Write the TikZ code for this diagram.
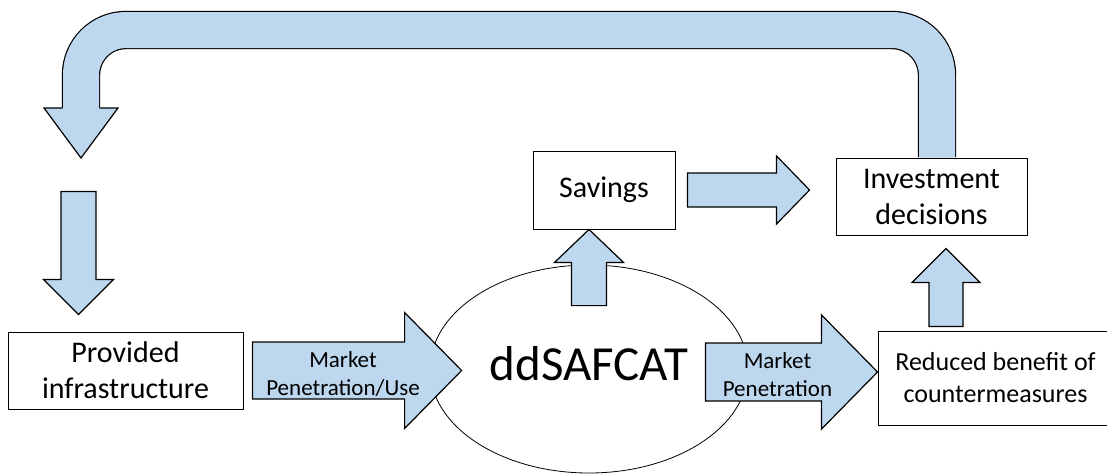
\documentclass[tikz,border=0pt]{standalone}
\usepackage{fontspec}
\setmainfont{Carlito}
\usetikzlibrary{shapes.geometric,calc}

\definecolor{arrowblue}{RGB}{189,215,238}

\newcommand\blockarrow[5]{%
  \coordinate (ba-h) at ($(#2)!#5!(#1)$);
  \draw[fatarrow] ($(#1)!#3!90:(#2)$) -- ($(ba-h)!#3!90:(#2)$) -- ($(ba-h)!#4!90:(#2)$)
    -- (#2) -- ($(ba-h)!#4!-90:(#2)$) -- ($(ba-h)!#3!-90:(#2)$) -- ($(#1)!#3!-90:(#2)$) -- cycle;
}

\begin{document}
\begin{tikzpicture}[x=1pt, y=-1pt,
  box/.style={draw, fill=white, line width=0.9pt, inner sep=0pt, align=center},
  fatarrow/.style={draw, fill=arrowblue, line width=1.2pt, line join=miter},
  arrowlabel/.style={align=center, font=\fontsize{23}{28}\selectfont},
  bigtext/.style={font=\fontsize{30}{36}\selectfont}
]
  \useasboundingbox (0,0) rectangle (1107,474);

  \node[box, bigtext, minimum width=235pt, minimum height=77pt] (infra) at (125.5,370.5) {Provided\\infrastructure};
  \node[box, bigtext, minimum width=142pt, minimum height=78pt] (savings) at (604,190) {Savings};
  \node[box, bigtext, minimum width=191pt, minimum height=77pt] (invest) at (931.5,196.5) {Investment\\decisions};
  \node[box, font=\fontsize{26}{32}\selectfont, minimum width=235pt, minimum height=94pt] (reduce) at (995.5,378) {Reduced benefit of\\countermeasures};
  \node[draw, ellipse, line width=0.8pt, minimum width=318pt, minimum height=208pt, inner sep=0pt,
    text depth=12pt, font=\fontsize{49}{58}\selectfont] (sim) at (589,369) {ddSAFCAT};

  % feedback loop
  \coordinate (lpa) at ($(invest.north)+(5.5,-0.5)$);
  \coordinate (lpc) at (81,30);
  \coordinate (lpb) at (lpa |- lpc);
  \coordinate (lpd) at (81,108);
  \draw[line width=38.4pt, rounded corners=45pt] (lpa) -- (lpb) -- (lpc) -- (lpd);
  \draw[arrowblue, line width=36pt, rounded corners=45pt] (lpa) -- (lpb) -- (lpc) -- (lpd);
  \filldraw[fatarrow] ($(lpd)+(-18.6,0)$) -- ($(lpd)+(-37,0)$) -- ($(lpd)+(0,50)$) -- ($(lpd)+(37,0)$) -- ($(lpd)+(18.6,0)$);

  \coordinate (ifa) at ($(infra.north)+(-47,-140)$);
  \coordinate (ifb) at ($(infra.north)+(-47,-17)$);
  \blockarrow{ifa}{ifb}{17.5pt}{35pt}{35pt}

  \coordinate (pua) at ($(infra.east)+(9,0)$);
  \coordinate (pub) at ($(pua -| sim.west)+(32,0)$);
  \blockarrow{pua}{pub}{28.5pt}{58pt}{57pt}
  \node[arrowlabel] (puselbl) at ($(pua)!0.5!(pub)+(-14,3)$) {Market\\Penetration/Use};

  \coordinate (pna) at ($(sim.east)+(-43,3)$);
  \coordinate (pnb) at (pna -| reduce.west);
  \blockarrow{pna}{pnb}{29pt}{57pt}{56pt}
  \node[arrowlabel] (penlbl) at ($(pna)!0.5!(pnb)+(-14,3)$) {Market\\Penetration};

  \coordinate (sva) at ($(sim.north)+(0,41)$);
  \coordinate (svb) at (sim.north |- savings.south);
  \blockarrow{sva}{svb}{17.5pt}{34.5pt}{33pt}

  \coordinate (iva) at ($(savings.east)+(12,0)$);
  \coordinate (ivb) at ($(iva -| invest.west)+(-26,0)$);
  \blockarrow{iva}{ivb}{17pt}{34pt}{33pt}

  \coordinate (rdb) at ($(invest.south)+(14.5,13)$);
  \coordinate (rda) at ($(rdb |- reduce.north)+(0,-4)$);
  \blockarrow{rda}{rdb}{17pt}{34pt}{34pt}
\end{tikzpicture}
\end{document}
